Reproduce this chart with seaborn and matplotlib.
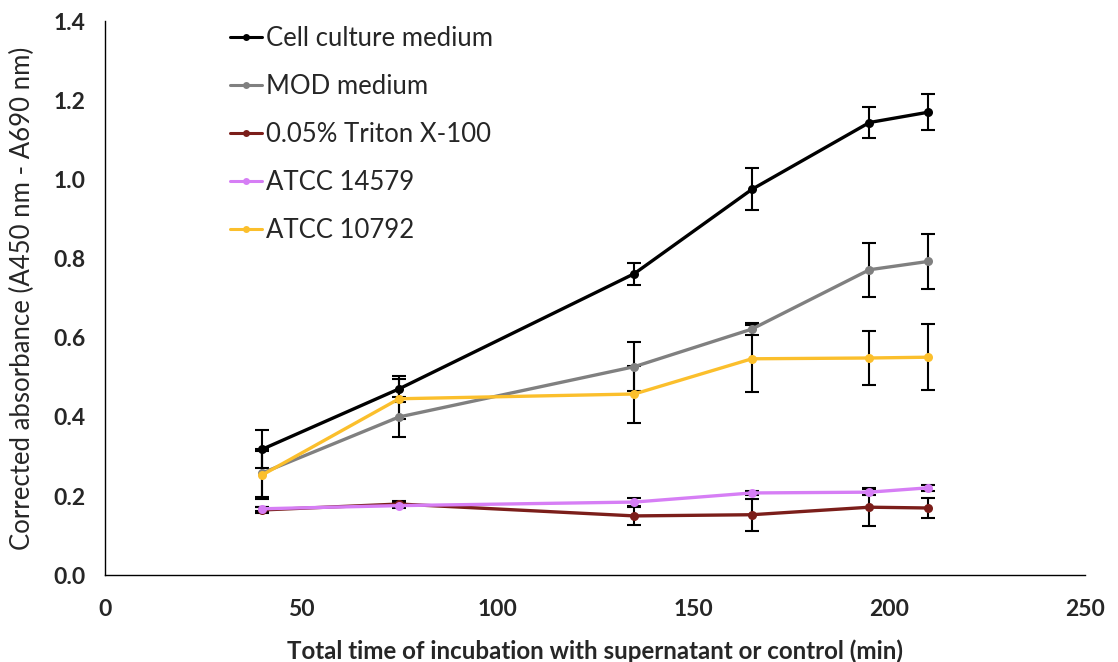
import numpy as np
import pandas as pd
import matplotlib
matplotlib.use("Agg")
import matplotlib.pyplot as plt
import seaborn as sns

# Incubation time points (min)
time_min = [40, 75, 135, 165, 195, 210]

series_names = ["Cell culture medium", "MOD medium", "0.05% Triton X-100",
                "ATCC 14579", "ATCC 10792"]

cell_culture = [0.318, 0.471, 0.762, 0.975, 1.144, 1.170]
cell_culture_err = [0.048, 0.033, 0.028, 0.053, 0.038, 0.046]

mod_medium = [0.258, 0.400, 0.527, 0.622, 0.772, 0.793]
mod_medium_err = [0.060, 0.050, 0.062, 0.016, 0.068, 0.069]

triton = [0.165, 0.180, 0.150, 0.153, 0.172, 0.170]
triton_err = [0.008, 0.008, 0.022, 0.040, 0.048, 0.025]

atcc_14579 = [0.168, 0.176, 0.185, 0.208, 0.210, 0.221]
atcc_14579_err = [0.005, 0.006, 0.010, 0.006, 0.008, 0.008]

atcc_10792 = [0.253, 0.446, 0.458, 0.547, 0.549, 0.551]
atcc_10792_err = [0.060, 0.050, 0.072, 0.085, 0.067, 0.083]

colors = ["#000000", "#808080", "#7B1E1A", "#D67EF5", "#FBBF2C"]

values = [cell_culture, mod_medium, triton, atcc_14579, atcc_10792]
errors = [cell_culture_err, mod_medium_err, triton_err, atcc_14579_err, atcc_10792_err]

frames = []
for name, v, e in zip(series_names, values, errors):
    frames.append(pd.DataFrame({"time": time_min, "absorbance": v, "err": e, "group": name}))
df = pd.concat(frames, ignore_index=True)

sns.set_theme(style="white")
plt.rcParams["font.family"] = ["Lato", "DejaVu Sans"]

fig = plt.figure(figsize=(11.18, 6.62), dpi=100)
ax = fig.add_axes([0.094, 0.131, 0.8765, 0.837])

palette = dict(zip(series_names, colors))
sns.lineplot(data=df, x="time", y="absorbance", hue="group", hue_order=series_names,
             palette=palette, marker="o", markersize=6.5, markeredgewidth=0,
             linewidth=2.4, ax=ax, errorbar=None, zorder=3)

for name in series_names:
    sub = df[df["group"] == name]
    ax.errorbar(sub["time"], sub["absorbance"], yerr=sub["err"], fmt="none",
                ecolor="black", elinewidth=1.5, capsize=5, capthick=1.5, zorder=2)

ax.set_xlim(0, 250)
ax.set_ylim(0, 1.4)
ax.set_xticks(np.arange(0, 251, 50))
ax.set_yticks(np.arange(0, 1.41, 0.2))
ax.set_yticklabels([f"{t:.1f}" for t in np.arange(0, 1.41, 0.2)])

for lab in ax.get_xticklabels() + ax.get_yticklabels():
    lab.set_fontweight("bold")
    lab.set_fontsize(16.5)
ax.tick_params(axis="x", length=0, pad=17)
ax.tick_params(axis="y", length=0, pad=14)

ax.set_xlabel("Total time of incubation with supernatant or control (min)",
              fontsize=17.4, fontweight="bold", labelpad=14)
ax.set_ylabel("Corrected absorbance (A450 nm - A690 nm)", fontsize=18.5, labelpad=13)

for side in ["top", "right"]:
    ax.spines[side].set_visible(False)
for side in ["left", "bottom"]:
    ax.spines[side].set_color("black")
    ax.spines[side].set_linewidth(1.0)

leg = ax.legend(loc="upper left", bbox_to_anchor=(0.117, 1.01), frameon=False,
                fontsize=18.5, handlelength=1.25, handletextpad=0.15,
                labelspacing=0.9, borderaxespad=0)
for h in leg.legend_handles:
    h.set_markersize(5)
    h.set_linewidth(2.2)

fig.savefig("out.png", dpi=100)
